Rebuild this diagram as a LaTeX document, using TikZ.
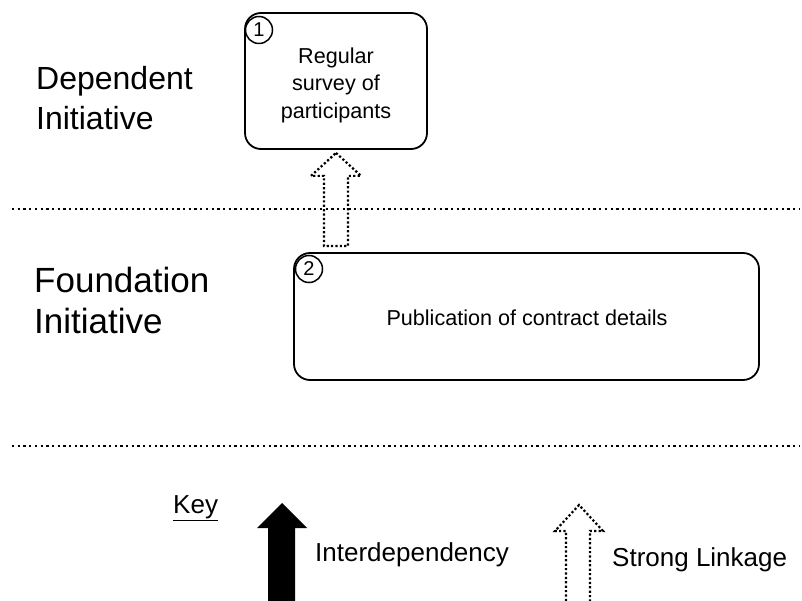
\documentclass[tikz,border=0pt]{standalone}
\usepackage{fontspec}
\setmainfont{Liberation Sans}
\usetikzlibrary{calc}
\begin{document}
\begin{tikzpicture}[x=1pt,y=-1pt,
  box/.style={draw, line width=1.8pt, rounded corners=16pt, inner sep=0pt},
  num/.style={draw, fill=white, circle, line width=1.5pt, inner sep=0pt,
    minimum size=27pt, font=\fontsize{20}{20}\selectfont},
  big/.style={align=left, anchor=west, inner sep=0pt},
  small/.style={font=\fontsize{21.6}{27.5}\selectfont, align=center, inner sep=0pt},
  keytext/.style={font=\fontsize{26}{26}\selectfont, anchor=west, inner sep=0pt},
  sepline/.style={line width=2.3pt, dash pattern=on 2.3pt off 3.4pt},
  dotarrow/.style={line width=2.2pt, dash pattern=on 2.2pt off 2.2pt},
]
\useasboundingbox (0,0) rectangle (802,601);

% level separators
\coordinate (s1a) at (12,209);
\coordinate (s1b) at (800,209);
\coordinate (s2a) at (12,446);
\coordinate (s2b) at (800,446);
\draw[sepline] (s1a) -- (s1b);
\draw[sepline] (s2a) -- (s2b);

% level labels
\node[big, font=\fontsize{32}{40}\selectfont] (dep) at (36,98) {Dependent\\Initiative};
\node[big, font=\fontsize{35}{41}\selectfont] (fnd) at (34,300) {Foundation\\Initiative};

% initiatives
\node[box, minimum width=182pt, minimum height=136pt] (b1) at (336,81) {};
\node[small] (t1) at (336,85) {Regular\\survey of\\participants};
\node[num] (n1) at (259,30) {1};

\node[box, minimum width=465pt, minimum height=127pt] (b2) at (526.5,316.5) {};
\node[small] (t2) at (527,318) {Publication of contract details};
\node[num] (n2) at (309,269) {2};

% strong linkage from 2 to 1
\coordinate (tip) at ($(b1.south)+(0,3)$);
\coordinate (sb) at ($(tip |- b2.north)+(0,-6)$);
\draw[dotarrow] (tip) -- ++(25,23) -- ++(-13,0) -- ($(sb)+(12,0)$)
  -- ($(sb)+(-12,0)$) -- ($(tip)+(-12,23)$) -- ++(-13,0) -- cycle;

% key
\node[keytext] (key) at (173,508) {\underline{Key}};
\fill (282,503) -- (307,528) -- (295,528) -- (295,610) -- (268,610)
  -- (268,528) -- (257,528) -- cycle;
\node[keytext] (kint) at (315,555) {Interdependency};
\draw[dotarrow] (566,601) -- (566,531) -- (555,531) -- (579,505)
  -- (603,531) -- (590,531) -- (590,601);
\node[keytext] (kstr) at (612,560) {Strong Linkage};
\end{tikzpicture}
\end{document}
